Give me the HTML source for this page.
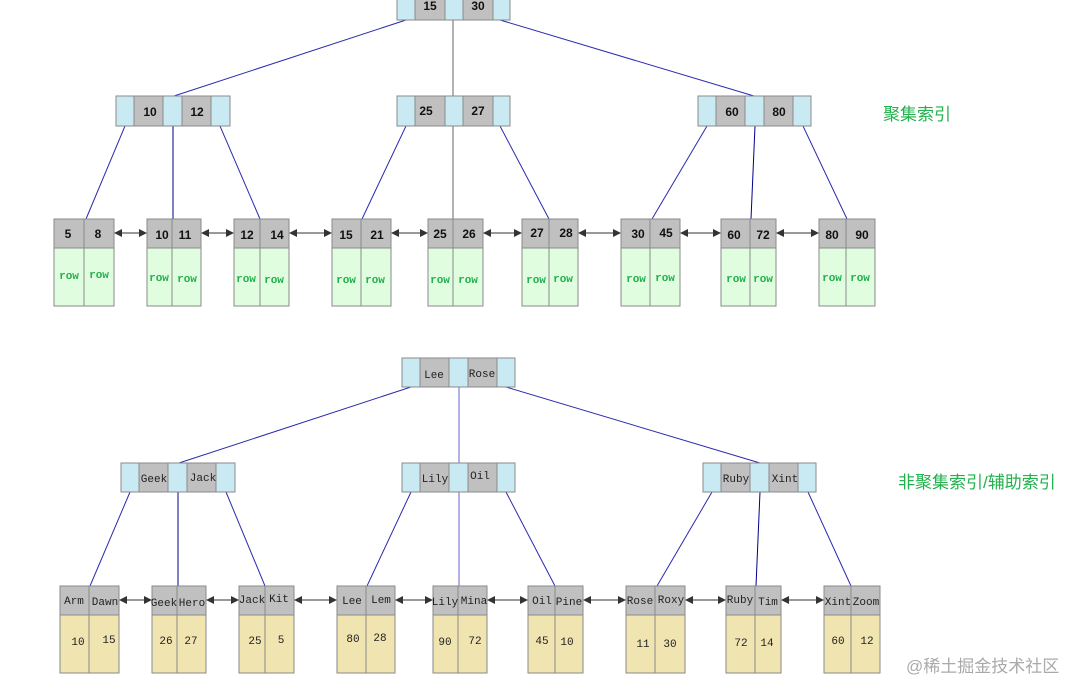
<!DOCTYPE html>
<html><head><meta charset="utf-8"><style>
html,body{margin:0;padding:0;background:#fff;}
svg{display:block;}
.n{font-family:"Liberation Sans",sans-serif;font-size:12px;font-weight:bold;fill:#111;}
.m{font-family:"Liberation Mono",monospace;font-size:11px;fill:#222;}
.r{font-family:"Liberation Mono",monospace;font-size:11px;font-weight:bold;fill:#22b14c;}
.v{font-family:"Liberation Mono",monospace;font-size:11px;fill:#222;}
.lab{font-family:"Liberation Sans","Noto Sans CJK SC",sans-serif;font-size:17px;fill:#22b14c;}
.wm{font-family:"Liberation Sans","Noto Sans CJK SC",sans-serif;font-size:17px;fill:#aaa;}
</style></head><body>
<svg width="1088" height="697" viewBox="0 0 1088 697" xmlns="http://www.w3.org/2000/svg">
<defs>
<marker id="ah" markerWidth="8" markerHeight="8" refX="7" refY="4" orient="auto" markerUnits="userSpaceOnUse"><path d="M0,0 L8,4 L0,8 Z" fill="#333"/></marker>
<marker id="as" markerWidth="8" markerHeight="8" refX="1" refY="4" orient="auto" markerUnits="userSpaceOnUse"><path d="M8,0 L0,4 L8,8 Z" fill="#333"/></marker>
</defs>

<!-- ===== TOP TREE LINES ===== -->
<g stroke="#2a2ab0" stroke-width="1" fill="none">
<line x1="406" y1="20" x2="174" y2="96"/>
<line x1="453" y1="20" x2="453" y2="96" stroke="#666"/>
<line x1="500" y1="20" x2="754" y2="96"/>
<line x1="125" y1="126" x2="86" y2="219"/>
<line x1="173" y1="126" x2="173" y2="219" stroke="#00008b"/>
<line x1="220" y1="126" x2="260" y2="219"/>
<line x1="406" y1="126" x2="362" y2="219"/>
<line x1="453" y1="126" x2="453" y2="219" stroke="#666"/>
<line x1="500" y1="126" x2="549" y2="219"/>
<line x1="707" y1="126" x2="652" y2="219"/>
<line x1="755" y1="126" x2="751" y2="219" stroke="#00008b"/>
<line x1="803" y1="126" x2="847" y2="219"/>
</g>

<!-- ===== BOTTOM TREE LINES ===== -->
<g stroke="#2a2ab0" stroke-width="1" fill="none">
<line x1="411" y1="387" x2="179" y2="463"/>
<line x1="459" y1="387" x2="459" y2="463" stroke="#6666cc"/>
<line x1="506" y1="387" x2="760" y2="463"/>
<line x1="130" y1="492" x2="90" y2="586"/>
<line x1="178" y1="492" x2="178" y2="586" stroke="#00008b"/>
<line x1="226" y1="492" x2="265" y2="586"/>
<line x1="411" y1="492" x2="367" y2="586"/>
<line x1="459" y1="492" x2="459" y2="586" stroke="#6666cc"/>
<line x1="506" y1="492" x2="555" y2="586"/>
<line x1="712" y1="492" x2="657" y2="586"/>
<line x1="760" y1="492" x2="756" y2="586" stroke="#00008b"/>
<line x1="808" y1="492" x2="851" y2="586"/>
</g>

<!-- ===== internal nodes (top) ===== -->
<g stroke="#8a8a8a" stroke-width="1">
<!-- root -->
<rect x="397" y="-10" width="18" height="30" fill="#c9e9f3"/><rect x="415" y="-10" width="30" height="30" fill="#c0c0c0"/><rect x="445" y="-10" width="18" height="30" fill="#c9e9f3"/><rect x="463" y="-10" width="30" height="30" fill="#c0c0c0"/><rect x="493" y="-10" width="17" height="30" fill="#c9e9f3"/>
<!-- L2 -->
<rect x="116" y="96" width="18" height="30" fill="#c9e9f3"/><rect x="134" y="96" width="29" height="30" fill="#c0c0c0"/><rect x="163" y="96" width="19" height="30" fill="#c9e9f3"/><rect x="182" y="96" width="29" height="30" fill="#c0c0c0"/><rect x="211" y="96" width="19" height="30" fill="#c9e9f3"/>
<rect x="397" y="96" width="18" height="30" fill="#c9e9f3"/><rect x="415" y="96" width="30" height="30" fill="#c0c0c0"/><rect x="445" y="96" width="18" height="30" fill="#c9e9f3"/><rect x="463" y="96" width="30" height="30" fill="#c0c0c0"/><rect x="493" y="96" width="17" height="30" fill="#c9e9f3"/>
<rect x="698" y="96" width="18" height="30" fill="#c9e9f3"/><rect x="716" y="96" width="29" height="30" fill="#c0c0c0"/><rect x="745" y="96" width="19" height="30" fill="#c9e9f3"/><rect x="764" y="96" width="29" height="30" fill="#c0c0c0"/><rect x="793" y="96" width="18" height="30" fill="#c9e9f3"/>
</g>
<g class="n" text-anchor="middle">
<text x="430" y="10">15</text><text x="478" y="10">30</text>
<text x="150" y="116">10</text><text x="197" y="116">12</text>
<text x="426" y="115">25</text><text x="478" y="115">27</text>
<text x="732" y="116">60</text><text x="779" y="116">80</text>
</g>

<!-- ===== internal nodes (bottom) ===== -->
<g stroke="#8a8a8a" stroke-width="1">
<rect x="402" y="358" width="18" height="29" fill="#c9e9f3"/><rect x="420" y="358" width="29" height="29" fill="#c0c0c0"/><rect x="449" y="358" width="19" height="29" fill="#c9e9f3"/><rect x="468" y="358" width="29" height="29" fill="#c0c0c0"/><rect x="497" y="358" width="18" height="29" fill="#c9e9f3"/>
<rect x="121" y="463" width="18" height="29" fill="#c9e9f3"/><rect x="139" y="463" width="29" height="29" fill="#c0c0c0"/><rect x="168" y="463" width="19" height="29" fill="#c9e9f3"/><rect x="187" y="463" width="29" height="29" fill="#c0c0c0"/><rect x="216" y="463" width="19" height="29" fill="#c9e9f3"/>
<rect x="402" y="463" width="18" height="29" fill="#c9e9f3"/><rect x="420" y="463" width="29" height="29" fill="#c0c0c0"/><rect x="449" y="463" width="19" height="29" fill="#c9e9f3"/><rect x="468" y="463" width="29" height="29" fill="#c0c0c0"/><rect x="497" y="463" width="18" height="29" fill="#c9e9f3"/>
<rect x="703" y="463" width="18" height="29" fill="#c9e9f3"/><rect x="721" y="463" width="29" height="29" fill="#c0c0c0"/><rect x="750" y="463" width="19" height="29" fill="#c9e9f3"/><rect x="769" y="463" width="29" height="29" fill="#c0c0c0"/><rect x="798" y="463" width="18" height="29" fill="#c9e9f3"/>
</g>
<g class="m" text-anchor="middle">
<text x="434" y="378">Lee</text><text x="482" y="377">Rose</text>
<text x="154" y="482">Geek</text><text x="203" y="481">Jack</text>
<text x="435" y="482">Lily</text><text x="480" y="479">Oil</text>
<text x="736" y="482">Ruby</text><text x="785" y="482">Xint</text>
</g>

<!-- ===== top leaves ===== -->
<g stroke="#8a8a8a" stroke-width="1">
<rect x="54" y="219" width="60" height="29" fill="#c0c0c0"/><rect x="54" y="248" width="60" height="58" fill="#e0fde0"/><line x1="84" y1="219" x2="84" y2="306"/>
<rect x="147" y="219" width="54" height="29" fill="#c0c0c0"/><rect x="147" y="248" width="54" height="58" fill="#e0fde0"/><line x1="172" y1="219" x2="172" y2="306"/>
<rect x="234" y="219" width="55" height="29" fill="#c0c0c0"/><rect x="234" y="248" width="55" height="58" fill="#e0fde0"/><line x1="260" y1="219" x2="260" y2="306"/>
<rect x="332" y="219" width="59" height="29" fill="#c0c0c0"/><rect x="332" y="248" width="59" height="58" fill="#e0fde0"/><line x1="361" y1="219" x2="361" y2="306"/>
<rect x="428" y="219" width="55" height="29" fill="#c0c0c0"/><rect x="428" y="248" width="55" height="58" fill="#e0fde0"/><line x1="453" y1="219" x2="453" y2="306"/>
<rect x="522" y="219" width="56" height="29" fill="#c0c0c0"/><rect x="522" y="248" width="56" height="58" fill="#e0fde0"/><line x1="549" y1="219" x2="549" y2="306"/>
<rect x="621" y="219" width="59" height="29" fill="#c0c0c0"/><rect x="621" y="248" width="59" height="58" fill="#e0fde0"/><line x1="650" y1="219" x2="650" y2="306"/>
<rect x="721" y="219" width="55" height="29" fill="#c0c0c0"/><rect x="721" y="248" width="55" height="58" fill="#e0fde0"/><line x1="750" y1="219" x2="750" y2="306"/>
<rect x="819" y="219" width="56" height="29" fill="#c0c0c0"/><rect x="819" y="248" width="56" height="58" fill="#e0fde0"/><line x1="846" y1="219" x2="846" y2="306"/>
</g>
<g class="n" text-anchor="middle">
<text x="68" y="238">5</text><text x="98" y="238">8</text>
<text x="162" y="239">10</text><text x="185" y="239">11</text>
<text x="247" y="239">12</text><text x="277" y="239">14</text>
<text x="346" y="239">15</text><text x="377" y="239">21</text>
<text x="440" y="238">25</text><text x="469" y="238">26</text>
<text x="537" y="237">27</text><text x="566" y="237">28</text>
<text x="638" y="238">30</text><text x="666" y="237">45</text>
<text x="734" y="239">60</text><text x="763" y="239">72</text>
<text x="832" y="239">80</text><text x="862" y="239">90</text>
</g>
<g class="r" text-anchor="middle">
<text x="69" y="279">row</text><text x="99" y="278">row</text>
<text x="159" y="281">row</text><text x="187" y="282">row</text>
<text x="246" y="282">row</text><text x="274" y="283">row</text>
<text x="346" y="283">row</text><text x="375" y="283">row</text>
<text x="440" y="283">row</text><text x="468" y="283">row</text>
<text x="536" y="283">row</text><text x="563" y="282">row</text>
<text x="636" y="282">row</text><text x="665" y="281">row</text>
<text x="736" y="282">row</text><text x="763" y="282">row</text>
<text x="832" y="281">row</text><text x="860" y="281">row</text>
</g>

<!-- ===== bottom leaves ===== -->
<g stroke="#8a8a8a" stroke-width="1">
<rect x="60" y="586" width="59" height="29" fill="#c0c0c0"/><rect x="60" y="615" width="59" height="58" fill="#f0e4b0"/><line x1="89" y1="586" x2="89" y2="673"/>
<rect x="152" y="586" width="54" height="29" fill="#c0c0c0"/><rect x="152" y="615" width="54" height="58" fill="#f0e4b0"/><line x1="177" y1="586" x2="177" y2="673"/>
<rect x="239" y="586" width="55" height="29" fill="#c0c0c0"/><rect x="239" y="615" width="55" height="58" fill="#f0e4b0"/><line x1="265" y1="586" x2="265" y2="673"/>
<rect x="337" y="586" width="58" height="29" fill="#c0c0c0"/><rect x="337" y="615" width="58" height="58" fill="#f0e4b0"/><line x1="366" y1="586" x2="366" y2="673"/>
<rect x="433" y="586" width="54" height="29" fill="#c0c0c0"/><rect x="433" y="615" width="54" height="58" fill="#f0e4b0"/><line x1="458" y1="586" x2="458" y2="673"/>
<rect x="528" y="586" width="55" height="29" fill="#c0c0c0"/><rect x="528" y="615" width="55" height="58" fill="#f0e4b0"/><line x1="555" y1="586" x2="555" y2="673"/>
<rect x="626" y="586" width="59" height="29" fill="#c0c0c0"/><rect x="626" y="615" width="59" height="58" fill="#f0e4b0"/><line x1="655" y1="586" x2="655" y2="673"/>
<rect x="726" y="586" width="55" height="29" fill="#c0c0c0"/><rect x="726" y="615" width="55" height="58" fill="#f0e4b0"/><line x1="755" y1="586" x2="755" y2="673"/>
<rect x="824" y="586" width="56" height="29" fill="#c0c0c0"/><rect x="824" y="615" width="56" height="58" fill="#f0e4b0"/><line x1="851" y1="586" x2="851" y2="673"/>
</g>
<g class="m" text-anchor="middle">
<text x="74" y="604">Arm</text><text x="105" y="605">Dawn</text>
<text x="164" y="606">Geek</text><text x="192" y="606">Hero</text>
<text x="252" y="603">Jack</text><text x="279" y="602">Kit</text>
<text x="352" y="604">Lee</text><text x="381" y="603">Lem</text>
<text x="445" y="605">Lily</text><text x="474" y="604">Mina</text>
<text x="542" y="604">Oil</text><text x="569" y="605">Pine</text>
<text x="640" y="604">Rose</text><text x="671" y="603">Roxy</text>
<text x="740" y="603">Ruby</text><text x="768" y="605">Tim</text>
<text x="838" y="605">Xint</text><text x="866" y="605">Zoom</text>
</g>
<g class="v" text-anchor="middle">
<text x="78" y="645">10</text><text x="109" y="643">15</text>
<text x="166" y="644">26</text><text x="191" y="644">27</text>
<text x="255" y="644">25</text><text x="281" y="643">5</text>
<text x="353" y="642">80</text><text x="380" y="641">28</text>
<text x="445" y="645">90</text><text x="475" y="644">72</text>
<text x="542" y="644">45</text><text x="567" y="645">10</text>
<text x="643" y="647">11</text><text x="670" y="647">30</text>
<text x="741" y="646">72</text><text x="767" y="646">14</text>
<text x="838" y="644">60</text><text x="867" y="644">12</text>
</g>

<!-- ===== leaf arrows ===== -->
<g stroke="#333" stroke-width="1" marker-start="url(#as)" marker-end="url(#ah)">
<line x1="115" y1="233" x2="146" y2="233"/>
<line x1="202" y1="233" x2="233" y2="233"/>
<line x1="290" y1="233" x2="331" y2="233"/>
<line x1="392" y1="233" x2="427" y2="233"/>
<line x1="484" y1="233" x2="521" y2="233"/>
<line x1="579" y1="233" x2="620" y2="233"/>
<line x1="681" y1="233" x2="720" y2="233"/>
<line x1="777" y1="233" x2="818" y2="233"/>
<line x1="120" y1="600" x2="151" y2="600"/>
<line x1="207" y1="600" x2="238" y2="600"/>
<line x1="295" y1="600" x2="336" y2="600"/>
<line x1="396" y1="600" x2="432" y2="600"/>
<line x1="488" y1="600" x2="527" y2="600"/>
<line x1="584" y1="600" x2="625" y2="600"/>
<line x1="686" y1="600" x2="725" y2="600"/>
<line x1="782" y1="600" x2="823" y2="600"/>
</g>

<!-- labels -->
<text class="lab" x="883" y="120">聚集索引</text>
<text class="lab" x="898" y="488">非聚集索引/辅助索引</text>
<text class="wm" x="906" y="672">@稀土掘金技术社区</text>
</svg>
</body></html>
